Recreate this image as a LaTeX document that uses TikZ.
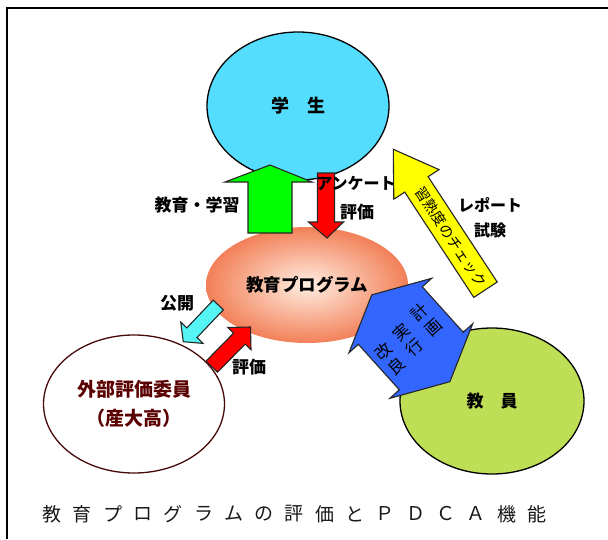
\documentclass[tikz,border=0pt]{standalone}
\usepackage{fontspec}
\setmainfont{Noto Sans CJK JP}
\newfontfamily\jp{Noto Sans CJK JP}
\usetikzlibrary{shapes.geometric}
\definecolor{stucol}{RGB}{85,221,255}
\definecolor{teacol}{RGB}{190,222,85}
\definecolor{progin}{RGB}{255,238,226}
\definecolor{progout}{RGB}{242,128,88}
\definecolor{grarrow}{RGB}{0,255,0}
\definecolor{rdarrow}{RGB}{255,0,0}
\definecolor{yelarrow}{RGB}{255,255,0}
\definecolor{bluarrow}{RGB}{51,102,255}
\definecolor{cyarrow}{RGB}{85,245,245}
\definecolor{extline}{RGB}{70,10,10}
\definecolor{exttext}{RGB}{90,0,0}
\tikzset{
  blob/.style={ellipse, inner sep=0pt, line width=1.3pt},
  boldlbl/.style={font={\jp\bfseries\fontsize{17}{19}\selectfont}, inner sep=0pt},
  plainlbl/.style={font={\jp\fontsize{16.5}{20}\selectfont}, inner sep=0pt, align=center},
  blockarrow/.style={line width=1.1pt, draw=black!85, line join=miter},
  capt/.style={font={\jp\fontsize{19}{21}\selectfont}, inner sep=0pt, text=black!90}
}
\begin{document}
\begin{tikzpicture}[x=1pt,y=-1pt]
\useasboundingbox (0,0) rectangle (608,539);
\fill[white] (0,0) rectangle (608,539);
\draw[line width=2.2pt] (7,539) -- (7,8) -- (608,8);

% ellipses
\node[blob, draw=black, fill=stucol, minimum width=182pt, minimum height=148pt,
      font={\jp\bfseries\fontsize{18}{20}\selectfont}] (gakusei) at (298,106) {学　生};
\node[blob, shading=radial, inner color=progin, outer color=progout,
      minimum width=202pt, minimum height=116pt,
      font={\jp\bfseries\fontsize{17.5}{20}\selectfont}] (prog) at (307,285) {教育プログラム};
\node[blob, draw=extline, fill=white, minimum width=181pt, minimum height=138pt,
      align=center, text=exttext,
      font={\jp\bfseries\fontsize{19}{29}\selectfont}] (gaibu) at (134,404) {外部評価委員\\（産大高）};
\node[blob, draw=black, fill=teacol, minimum width=184pt, minimum height=146pt,
      font={\jp\bfseries\fontsize{17}{20}\selectfont}] (kyoin) at (492,401) {教　員};

% green up arrow
\draw[blockarrow, fill=grarrow] (248,233) -- (248,182) -- (225,182) -- (270,165)
  -- (312,182) -- (292,182) -- (292,233) -- cycle;
% red down arrow
\draw[blockarrow, fill=rdarrow] (317.5,173) -- (334.5,173) -- (334.5,222) -- (343.5,222)
  -- (327,238) -- (308.5,222) -- (317.5,222) -- cycle;

% yellow arrow
\draw[blockarrow, fill=yelarrow] (393.3,149.3) -- (439.0,169.6) -- (428.1,176.7)
  -- (497.2,282.0) -- (473.8,297.4) -- (404.7,192.1) -- (393.8,199.2) -- cycle;
\node[font={\jp\fontsize{14.5}{16}\selectfont}, inner sep=0pt, rotate=-56.7] (check) at (450.9,237.1) {習熟度のチェック};

% cyan arrow (publication)
\draw[blockarrow, fill=cyarrow] (213.2,300.2) -- (223.4,309.8) -- (197.0,337.5)
  -- (203.1,343.4) -- (183.3,341.7) -- (180.7,322.0) -- (186.8,327.9) -- cycle;
% small red arrow (evaluation)
\draw[blockarrow, fill=rdarrow] (205.9,361.2) -- (233.6,333.1) -- (227.8,327.5)
  -- (250.5,327) -- (251.0,349.7) -- (245.2,344.1) -- (217.5,372.2) -- cycle;

% blue double arrow
\begin{scope}[shift={(410.8,338.3)}, rotate=42]
\draw[blockarrow, fill=bluarrow] (0,-58.4) -- (55.7,-30.6) -- (43,-30.6) -- (43,30.6)
  -- (55.7,30.6) -- (0,58.4) -- (-55.7,30.6) -- (-43,30.6) -- (-43,-30.6)
  -- (-55.7,-30.6) -- cycle;
\node[plainlbl, rotate=42] (keikaku) at (24,-3) {計\\画};
\node[plainlbl, rotate=42] (jikko) at (-3,-0.5) {実\\行};
\node[plainlbl, rotate=42] (kairyo) at (-29,1) {改\\良};
\end{scope}

% labels
\node[boldlbl] (kyoiku) at (197,205) {教育・学習};
\node[boldlbl, font={\jp\bfseries\fontsize{16}{18}\selectfont}] (enq) at (356,183) {アンケート};
\node[boldlbl] (hyoka1) at (357,212) {評価};
\node[boldlbl] (kokai) at (177,303) {公開};
\node[boldlbl] (hyoka2) at (249,367) {評価};
\node[boldlbl, font={\jp\bfseries\fontsize{16}{18}\selectfont}] (report) at (490,205) {レポート};
\node[boldlbl, font={\jp\bfseries\fontsize{16}{18}\selectfont}] (shiken) at (490,230) {試験};

% caption
\foreach \c [count=\i] in {教,育,プ,ロ,グ,ラ,ム,の,評,価,と,Ｐ,Ｄ,Ｃ,Ａ,機,能}
  \node[capt] (cap\i) at ({52+(\i-1)*30.3},514) {\c};
\end{tikzpicture}
\end{document}
